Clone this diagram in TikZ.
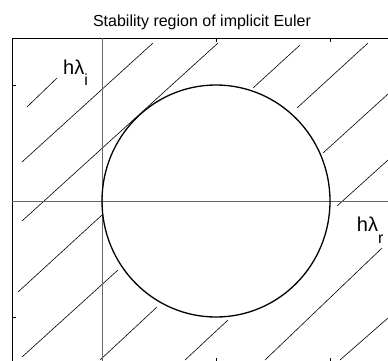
\documentclass[tikz,border=0pt]{standalone}
\usepackage{fontspec}
\setmainfont{Liberation Sans}

\begin{document}
\begin{tikzpicture}[x=1pt,y=-1pt,
  frame/.style={line width=0.8pt},
  axisline/.style={line width=0.8pt,draw=black!60},
  hatch/.style={line width=0.6pt},
  tick/.style={line width=0.6pt},
  circ/.style={line width=1.3pt},
  lbl/.style={font=\fontsize{20}{24}\selectfont,inner sep=0pt,anchor=base west}]
\clip (0,0) rectangle (388,360);

% --- hatching outside the circle --------------------------------------
\foreach \ax/\ay/\bx/\by in {27/107/57/78, 22/162/153/43, 22/221/218/43,
    18/292/102/215, 22/357/118/270, 253/88/300/45, 297/108/368/43,
    323/153/388/94, 337/206/388/160, 100/360/157/307, 185/360/228/320,
    265/360/382/248, 340/360/388/318}
  \draw[hatch] (\ax,\ay) -- (\bx,\by);

% --- axes box and ticks -----------------------------------------------
\draw[frame] (12,362) -- (12,38) -- (392,38) -- (392,362) -- cycle;
\foreach \ty in {85,317} {
  \draw[tick] (12,\ty) -- (16,\ty);
  \draw[tick] (392,\ty) -- (388,\ty);
}
\foreach \tx in {216,330} {
  \draw[tick] (\tx,38) -- (\tx,42);
  \draw[tick] (\tx,362) -- (\tx,358);
}

% --- real and imaginary axes ------------------------------------------
\coordinate (origin) at (102,201);
\draw[axisline] (12,201) -- (392,201);
\draw[axisline] (102,38) -- (102,362);

% --- unit circle around 1 ---------------------------------------------
\coordinate (centre) at (216,201);
\draw[circ] (centre) ellipse [x radius=114, y radius=116];

% --- labels -------------------------------------------------------------
\node[font=\fontsize{16}{19}\selectfont,anchor=base,inner sep=0pt] (title)
  at (202,26.7) {Stability region of implicit Euler};
\node[lbl] (imag) at (63,74) {hλ\raisebox{-11.5pt}{\fontsize{16}{18}\selectfont i}};
\node[lbl] (real) at (356.7,231.7) {hλ\raisebox{-11.5pt}{\fontsize{16}{18}\selectfont r}};
\end{tikzpicture}
\end{document}
